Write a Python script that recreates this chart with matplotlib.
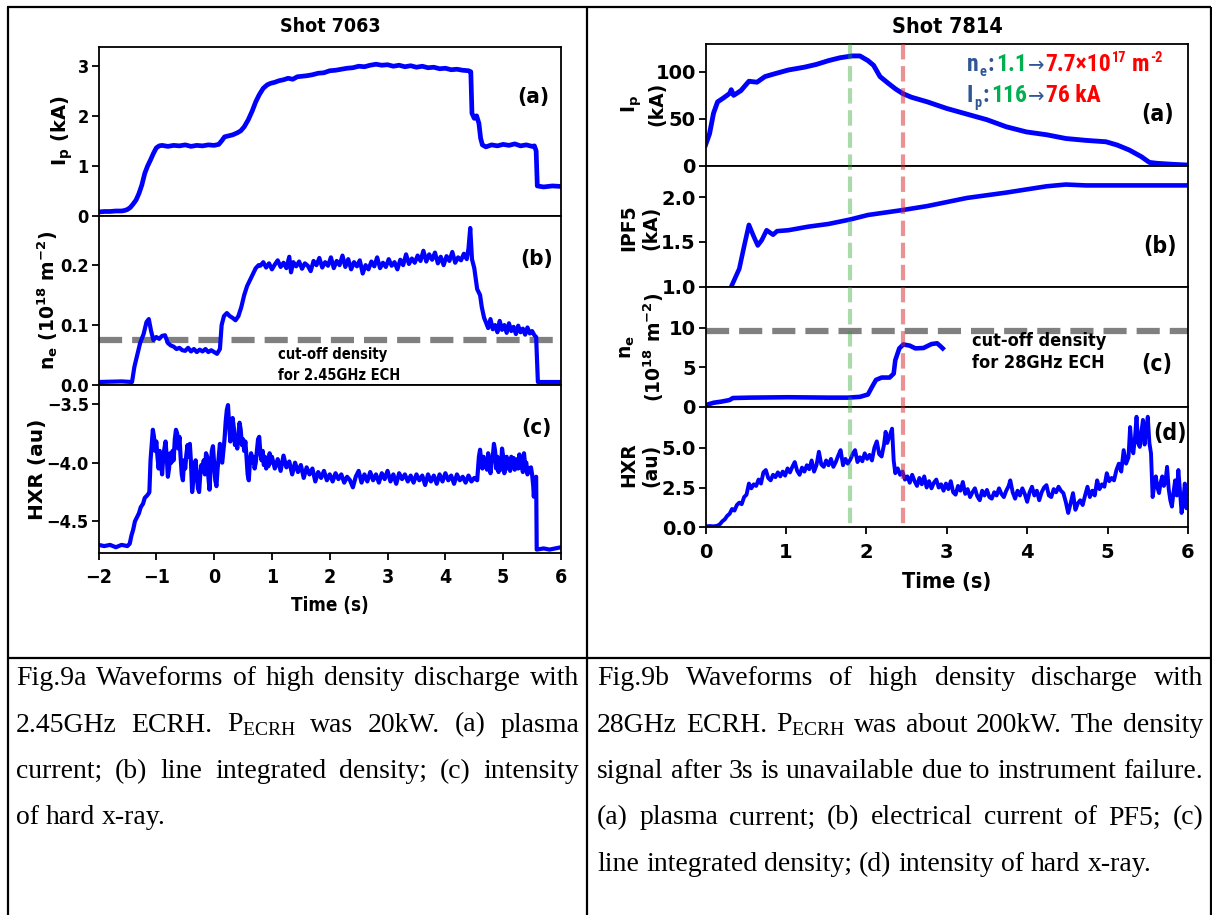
import os
import numpy as np
import matplotlib
matplotlib.use("Agg")
import matplotlib.pyplot as plt
from matplotlib import font_manager as fm
from matplotlib.font_manager import FontProperties
from matplotlib.lines import Line2D
from matplotlib.transforms import blended_transform_factory

# ---------------------------------------------------------------- data
# Shot 7063 (2.45 GHz ECRH): (time [s], value)
ip_7063 = [(-2.0, 0.08), (-1.9, 0.09), (-1.8, 0.09), (-1.7, 0.10), (-1.6, 0.10), (-1.55, 0.11),
           (-1.5, 0.13), (-1.45, 0.17), (-1.4, 0.24), (-1.35, 0.32), (-1.3, 0.45), (-1.25, 0.62),
           (-1.2, 0.85), (-1.15, 1.00), (-1.1, 1.12), (-1.05, 1.25), (-1.0, 1.36), (-0.95, 1.40),
           (-0.9, 1.41), (-0.8, 1.39), (-0.7, 1.41), (-0.6, 1.40), (-0.5, 1.42), (-0.4, 1.39),
           (-0.3, 1.41), (-0.2, 1.40), (-0.1, 1.42), (0.0, 1.41), (0.08, 1.43), (0.13, 1.50),
           (0.18, 1.58), (0.25, 1.60), (0.32, 1.62), (0.4, 1.66), (0.46, 1.70), (0.52, 1.78),
           (0.59, 1.92), (0.66, 2.10), (0.72, 2.28), (0.78, 2.42), (0.85, 2.55), (0.92, 2.62),
           (0.98, 2.65), (1.05, 2.67), (1.12, 2.70), (1.2, 2.72), (1.28, 2.75), (1.36, 2.73),
           (1.44, 2.78), (1.52, 2.79), (1.6, 2.80), (1.7, 2.82), (1.8, 2.85), (1.9, 2.86),
           (2.0, 2.90), (2.1, 2.91), (2.2, 2.93), (2.3, 2.95), (2.4, 2.96), (2.5, 2.99),
           (2.6, 2.98), (2.7, 3.01), (2.8, 3.03), (2.9, 3.01), (3.0, 3.02), (3.1, 2.99),
           (3.2, 3.01), (3.3, 2.98), (3.4, 3.00), (3.5, 2.97), (3.6, 2.99), (3.7, 2.96),
           (3.8, 2.97), (3.9, 2.94), (4.0, 2.95), (4.1, 2.92), (4.2, 2.93), (4.3, 2.91),
           (4.4, 2.90), (4.44, 2.88), (4.46, 2.05), (4.5, 1.95), (4.54, 2.00), (4.58, 1.85),
           (4.61, 1.55), (4.64, 1.42), (4.7, 1.38), (4.8, 1.42), (4.9, 1.40), (5.0, 1.43),
           (5.1, 1.41), (5.2, 1.44), (5.3, 1.40), (5.4, 1.42), (5.5, 1.39), (5.54, 1.40),
           (5.57, 1.30), (5.59, 0.60), (5.7, 0.58), (5.85, 0.60), (6.0, 0.59)]

ne_7063 = [(-2.0, 0.005), (-1.6, 0.006), (-1.42, 0.005), (-1.38, 0.03), (-1.33, 0.05),
           (-1.28, 0.07), (-1.22, 0.085), (-1.17, 0.105), (-1.13, 0.11), (-1.09, 0.09),
           (-1.05, 0.075), (-1.0, 0.08), (-0.95, 0.077), (-0.9, 0.082), (-0.85, 0.083),
           (-0.8, 0.07), (-0.75, 0.066), (-0.7, 0.064), (-0.65, 0.06), (-0.6, 0.062),
           (-0.55, 0.058), (-0.5, 0.057), (-0.45, 0.062), (-0.4, 0.056), (-0.35, 0.06),
           (-0.3, 0.055), (-0.25, 0.059), (-0.2, 0.056), (-0.15, 0.06), (-0.1, 0.055),
           (-0.05, 0.058), (0.0, 0.055), (0.05, 0.052), (0.1, 0.06), (0.13, 0.10),
           (0.17, 0.115), (0.22, 0.12), (0.27, 0.115), (0.32, 0.112), (0.37, 0.108),
           (0.42, 0.115), (0.47, 0.13), (0.52, 0.15), (0.57, 0.165), (0.62, 0.175),
           (0.67, 0.185), (0.72, 0.195), (0.77, 0.20), (0.80, 0.199), (0.85, 0.205),
           (0.90, 0.196), (0.95, 0.203), (1.00, 0.193), (1.05, 0.201), (1.10, 0.208),
           (1.15, 0.197), (1.20, 0.204), (1.25, 0.195), (1.30, 0.214), (1.33, 0.188),
           (1.37, 0.205), (1.42, 0.198), (1.47, 0.206), (1.52, 0.194), (1.57, 0.203),
           (1.62, 0.199), (1.67, 0.190), (1.72, 0.207), (1.77, 0.200), (1.82, 0.212),
           (1.87, 0.196), (1.92, 0.205), (1.97, 0.199), (2.02, 0.213), (2.07, 0.195),
           (2.12, 0.207), (2.17, 0.200), (2.22, 0.216), (2.27, 0.197), (2.32, 0.210),
           (2.37, 0.193), (2.42, 0.205), (2.47, 0.198), (2.52, 0.208), (2.57, 0.186),
           (2.62, 0.200), (2.67, 0.193), (2.72, 0.206), (2.77, 0.198), (2.82, 0.213),
           (2.87, 0.195), (2.92, 0.204), (2.97, 0.197), (3.02, 0.210), (3.07, 0.199),
           (3.12, 0.205), (3.17, 0.193), (3.22, 0.209), (3.27, 0.200), (3.32, 0.218),
           (3.37, 0.202), (3.42, 0.211), (3.47, 0.204), (3.52, 0.216), (3.57, 0.207),
           (3.62, 0.224), (3.67, 0.206), (3.72, 0.218), (3.77, 0.209), (3.82, 0.221),
           (3.87, 0.203), (3.92, 0.214), (3.97, 0.200), (4.02, 0.215), (4.07, 0.207),
           (4.12, 0.222), (4.17, 0.204), (4.22, 0.213), (4.27, 0.208), (4.32, 0.219),
           (4.37, 0.210), (4.40, 0.228), (4.43, 0.262), (4.46, 0.210), (4.50, 0.195),
           (4.55, 0.160), (4.60, 0.150), (4.63, 0.130), (4.67, 0.112), (4.70, 0.105),
           (4.74, 0.095), (4.78, 0.110), (4.82, 0.093), (4.86, 0.100), (4.90, 0.088),
           (4.94, 0.107), (4.98, 0.092), (5.02, 0.100), (5.06, 0.087), (5.10, 0.103),
           (5.14, 0.090), (5.18, 0.097), (5.22, 0.085), (5.26, 0.099), (5.30, 0.088),
           (5.34, 0.094), (5.38, 0.084), (5.42, 0.096), (5.46, 0.086), (5.50, 0.090),
           (5.54, 0.083), (5.57, 0.080), (5.59, 0.030), (5.60, 0.005), (6.0, 0.005)]

hxr_7063 = [(-2.0, -4.70), (-1.9, -4.71), (-1.8, -4.70), (-1.7, -4.72), (-1.6, -4.70),
            (-1.5, -4.71), (-1.46, -4.69), (-1.43, -4.62), (-1.4, -4.57), (-1.37, -4.50),
            (-1.33, -4.46), (-1.3, -4.43), (-1.27, -4.38), (-1.23, -4.35), (-1.2, -4.30),
            (-1.16, -4.28), (-1.13, -4.26), (-1.12, -4.25), (-1.1, -3.98), (-1.08, -3.85),
            (-1.06, -3.72), (-1.04, -3.78), (-1.02, -3.90), (-1.0, -3.82), (-0.98, -3.95),
            (-0.96, -4.05), (-0.94, -3.90), (-0.92, -4.00), (-0.9, -4.10), (-0.88, -3.95),
            (-0.86, -3.88), (-0.84, -3.82), (-0.82, -3.95), (-0.8, -4.12), (-0.78, -4.05),
            (-0.76, -3.92), (-0.74, -4.00), (-0.72, -3.90), (-0.7, -3.98), (-0.68, -3.80),
            (-0.66, -3.72), (-0.64, -3.75), (-0.62, -3.88), (-0.6, -3.78), (-0.58, -3.95),
            (-0.56, -4.10), (-0.54, -4.15), (-0.52, -3.98), (-0.5, -4.05), (-0.48, -3.93),
            (-0.46, -3.85), (-0.44, -3.95), (-0.42, -3.84), (-0.4, -4.00), (-0.38, -4.25),
            (-0.36, -4.15), (-0.34, -4.05), (-0.32, -3.98), (-0.3, -4.10), (-0.28, -4.22),
            (-0.26, -4.25), (-0.24, -4.10), (-0.22, -4.02), (-0.2, -4.06), (-0.18, -3.98),
            (-0.16, -4.10), (-0.14, -3.92), (-0.12, -3.95), (-0.1, -4.12), (-0.08, -4.23),
            (-0.06, -4.05), (-0.04, -3.90), (-0.02, -3.86), (0.0, -4.00), (0.02, -4.15),
            (0.04, -4.20), (0.06, -4.05), (0.08, -3.95), (0.1, -3.84), (0.12, -3.92),
            (0.14, -4.00), (0.16, -3.90), (0.18, -3.80), (0.2, -3.65), (0.22, -3.55),
            (0.24, -3.51), (0.26, -3.68), (0.28, -3.82), (0.3, -3.70), (0.32, -3.62),
            (0.34, -3.70), (0.36, -3.85), (0.38, -3.78), (0.4, -3.88), (0.42, -3.75),
            (0.44, -3.66), (0.46, -3.72), (0.48, -3.85), (0.5, -3.80), (0.52, -3.90),
            (0.54, -3.82), (0.56, -3.95), (0.58, -4.10), (0.6, -4.15), (0.62, -3.98),
            (0.64, -3.92), (0.66, -4.00), (0.68, -3.95), (0.7, -4.05), (0.72, -4.00),
            (0.74, -3.90), (0.76, -3.80), (0.78, -3.78), (0.8, -3.92), (0.82, -3.98),
            (0.84, -3.90), (0.86, -4.02), (0.88, -3.95), (0.9, -4.05), (0.92, -3.96),
            (0.94, -4.03), (0.96, -3.92), (0.98, -4.00), (1.0, -3.95), (1.05, -4.05),
            (1.1, -3.97), (1.15, -4.07), (1.2, -3.94), (1.25, -4.04), (1.3, -3.99),
            (1.35, -4.10), (1.4, -4.00), (1.45, -4.08), (1.5, -4.02), (1.55, -4.13),
            (1.6, -4.04), (1.65, -4.10), (1.7, -4.05), (1.75, -4.16), (1.8, -4.08),
            (1.85, -4.13), (1.9, -4.07), (1.95, -4.15), (2.0, -4.10), (2.05, -4.16),
            (2.1, -4.09), (2.15, -4.14), (2.2, -4.10), (2.25, -4.17), (2.3, -4.12),
            (2.35, -4.15), (2.4, -4.21), (2.45, -4.12), (2.5, -4.07), (2.55, -4.17),
            (2.6, -4.10), (2.65, -4.16), (2.7, -4.08), (2.75, -4.15), (2.8, -4.10),
            (2.85, -4.17), (2.9, -4.09), (2.95, -4.14), (3.0, -4.07), (3.05, -4.16),
            (3.1, -4.10), (3.15, -4.18), (3.2, -4.09), (3.25, -4.14), (3.3, -4.10),
            (3.35, -4.16), (3.4, -4.11), (3.45, -4.17), (3.5, -4.10), (3.55, -4.15),
            (3.6, -4.11), (3.65, -4.19), (3.7, -4.10), (3.75, -4.16), (3.8, -4.11),
            (3.85, -4.18), (3.9, -4.10), (3.95, -4.16), (4.0, -4.09), (4.05, -4.15),
            (4.1, -4.11), (4.15, -4.18), (4.2, -4.10), (4.25, -4.15), (4.3, -4.12),
            (4.35, -4.17), (4.4, -4.11), (4.45, -4.16), (4.5, -4.13), (4.55, -4.15),
            (4.58, -3.95), (4.6, -3.89), (4.62, -3.98), (4.64, -4.05), (4.66, -3.95),
            (4.68, -4.03), (4.7, -3.98), (4.72, -4.06), (4.74, -3.92), (4.76, -3.98),
            (4.78, -4.09), (4.8, -4.00), (4.82, -3.95), (4.84, -3.84), (4.86, -3.90),
            (4.88, -4.05), (4.9, -3.95), (4.92, -4.08), (4.94, -3.98), (4.96, -4.06),
            (4.98, -3.88), (5.0, -3.95), (5.02, -4.09), (5.04, -4.00), (5.06, -3.95),
            (5.08, -4.05), (5.1, -3.98), (5.12, -4.07), (5.14, -3.95), (5.16, -4.02),
            (5.18, -3.96), (5.2, -4.06), (5.22, -4.00), (5.24, -3.97), (5.26, -4.05),
            (5.28, -3.93), (5.3, -4.04), (5.32, -3.98), (5.34, -4.08), (5.36, -3.92),
            (5.38, -4.02), (5.4, -4.00), (5.42, -4.10), (5.44, -4.05), (5.46, -4.08),
            (5.48, -4.04), (5.5, -4.10), (5.52, -4.20), (5.53, -4.29), (5.55, -4.15),
            (5.57, -4.12), (5.58, -4.74), (5.7, -4.73), (5.8, -4.74), (6.0, -4.72)]

# Shot 7814 (28 GHz ECRH)
ip_7814 = [(0.0, 22), (0.05, 34), (0.1, 56), (0.15, 68), (0.22, 72), (0.3, 77), (0.32, 81),
           (0.35, 75), (0.44, 80), (0.54, 90), (0.64, 89), (0.74, 95), (0.84, 97.5),
           (1.03, 102), (1.23, 105), (1.38, 108), (1.53, 112), (1.67, 115), (1.82, 117),
           (1.92, 117), (2.02, 112), (2.09, 107), (2.17, 95), (2.27, 88), (2.36, 82),
           (2.45, 77), (2.56, 73), (2.76, 68), (3.0, 61), (3.25, 55), (3.5, 49), (3.74, 41.5),
           (3.99, 36), (4.24, 33), (4.48, 29), (4.73, 27), (4.98, 25.5), (5.12, 22),
           (5.27, 16.7), (5.42, 9.6), (5.52, 3.5), (5.62, 2.5), (5.82, 1.4), (5.99, 0.7)]

ipf5_7814 = [(0.32, 1.0), (0.42, 1.2), (0.48, 1.45), (0.54, 1.69), (0.6, 1.56), (0.65, 1.46),
             (0.7, 1.52), (0.76, 1.63), (0.84, 1.58), (0.89, 1.62), (1.03, 1.63), (1.28, 1.67),
             (1.53, 1.70), (1.8, 1.75), (2.02, 1.80), (2.45, 1.855), (2.76, 1.90), (3.25, 1.99),
             (3.74, 2.05), (4.24, 2.12), (4.48, 2.14), (4.73, 2.13), (5.22, 2.13), (6.0, 2.13)]

ne_7814 = [(0.0, 0.2), (0.1, 0.5), (0.2, 0.65), (0.3, 0.85), (0.34, 1.1), (0.54, 1.15),
           (1.03, 1.2), (1.53, 1.15), (1.77, 1.15), (1.92, 1.25), (2.02, 1.55), (2.07, 2.5),
           (2.12, 3.4), (2.19, 3.7), (2.29, 3.7), (2.34, 4.2), (2.36, 5.9), (2.41, 7.4),
           (2.46, 7.9), (2.54, 7.75), (2.61, 7.4), (2.71, 7.45), (2.81, 7.95), (2.88, 8.05),
           (2.93, 7.6), (2.95, 7.4)]

hxr_7814 = [(0.00, 0.05), (0.05, 0.08), (0.10, 0.06), (0.15, 0.10), (0.18, 0.20), (0.21, 0.38),
            (0.24, 0.50), (0.27, 0.72), (0.30, 0.85), (0.33, 1.15), (0.36, 1.05), (0.39, 1.40),
            (0.42, 1.55), (0.45, 1.45), (0.48, 1.90), (0.51, 2.05), (0.54, 2.75), (0.57, 2.45),
            (0.60, 2.70), (0.63, 2.60), (0.66, 3.00), (0.69, 2.75), (0.72, 3.45), (0.75, 3.60),
            (0.78, 3.10), (0.81, 2.95), (0.84, 3.30), (0.87, 3.15), (0.90, 3.45), (0.93, 3.20),
            (0.96, 3.50), (0.99, 3.25), (1.02, 3.70), (1.05, 3.45), (1.08, 3.80), (1.11, 4.10),
            (1.14, 3.55), (1.17, 3.30), (1.20, 3.75), (1.23, 3.50), (1.26, 3.90), (1.29, 3.65),
            (1.32, 4.20), (1.35, 3.50), (1.38, 3.90), (1.41, 4.75), (1.44, 3.95), (1.47, 3.80),
            (1.50, 4.20), (1.53, 3.90), (1.56, 4.30), (1.59, 3.80), (1.62, 4.10), (1.65, 4.50),
            (1.68, 4.85), (1.71, 3.90), (1.74, 4.30), (1.77, 4.00), (1.80, 4.25), (1.83, 4.60),
            (1.86, 4.85), (1.89, 4.10), (1.92, 4.40), (1.95, 4.15), (1.98, 4.65), (2.01, 4.30),
            (2.04, 4.55), (2.07, 4.20), (2.10, 5.00), (2.13, 5.40), (2.16, 4.60), (2.19, 4.45),
            (2.22, 5.20), (2.24, 6.00), (2.26, 5.30), (2.28, 5.60), (2.30, 5.90), (2.32, 6.20),
            (2.34, 4.20), (2.36, 3.40), (2.39, 3.70), (2.42, 3.30), (2.45, 3.50), (2.48, 3.00),
            (2.51, 3.20), (2.54, 2.80), (2.57, 3.30), (2.60, 2.90), (2.63, 2.60), (2.66, 3.10),
            (2.69, 2.70), (2.72, 3.20), (2.75, 2.50), (2.78, 2.90), (2.81, 2.45), (2.84, 2.80),
            (2.87, 3.00), (2.90, 2.50), (2.93, 2.70), (2.96, 2.30), (2.99, 2.75), (3.02, 2.40),
            (3.05, 2.90), (3.08, 2.20), (3.11, 2.05), (3.14, 2.60), (3.17, 2.30), (3.20, 2.85),
            (3.23, 2.10), (3.26, 2.40), (3.29, 1.90), (3.32, 2.20), (3.35, 2.45), (3.38, 1.95),
            (3.41, 1.70), (3.44, 2.30), (3.47, 2.00), (3.50, 2.35), (3.53, 1.90), (3.56, 1.80),
            (3.59, 2.20), (3.62, 2.00), (3.65, 2.45), (3.68, 2.10), (3.71, 1.90), (3.74, 2.30),
            (3.77, 2.60), (3.79, 2.95), (3.82, 2.20), (3.85, 1.80), (3.88, 2.30), (3.91, 2.00),
            (3.94, 2.45), (3.97, 2.10), (4.00, 1.60), (4.03, 2.20), (4.06, 2.55), (4.09, 2.00),
            (4.12, 2.30), (4.15, 1.70), (4.18, 2.20), (4.21, 2.50), (4.24, 2.65), (4.27, 2.00),
            (4.30, 1.90), (4.33, 2.40), (4.36, 2.20), (4.39, 2.55), (4.42, 2.30), (4.45, 2.15),
            (4.48, 1.60), (4.51, 0.90), (4.54, 1.50), (4.57, 2.15), (4.60, 1.10), (4.63, 1.50),
            (4.66, 1.70), (4.69, 1.40), (4.72, 2.00), (4.75, 2.55), (4.78, 1.90), (4.81, 2.30),
            (4.84, 2.00), (4.87, 2.95), (4.90, 2.40), (4.93, 2.70), (4.96, 2.55), (4.99, 3.40),
            (5.02, 2.90), (5.05, 3.10), (5.08, 2.95), (5.11, 3.60), (5.14, 4.00), (5.17, 3.50),
            (5.20, 4.85), (5.23, 4.00), (5.26, 4.40), (5.28, 6.30), (5.30, 5.00), (5.32, 4.65),
            (5.34, 5.60), (5.36, 6.95), (5.38, 5.30), (5.40, 5.05), (5.42, 6.00), (5.44, 6.75),
            (5.46, 5.20), (5.48, 6.20), (5.50, 6.95), (5.52, 5.30), (5.54, 4.65), (5.56, 1.90),
            (5.58, 2.60), (5.60, 3.20), (5.62, 2.50), (5.64, 2.15), (5.66, 2.80), (5.68, 3.20),
            (5.70, 2.60), (5.72, 2.90), (5.74, 3.80), (5.76, 2.40), (5.78, 1.70), (5.80, 1.30),
            (5.82, 2.20), (5.84, 2.95), (5.86, 2.00), (5.88, 3.60), (5.90, 2.30), (5.92, 0.90),
            (5.94, 1.60), (5.96, 2.75), (5.98, 1.20), (6.00, 1.70)]

cutoff_245 = 0.075      # 10^18 m^-2
cutoff_28 = 9.6         # 10^18 m^-2
t_green, t_red = 1.8, 2.45

ticks_7063_x = [-2, -1, 0, 1, 2, 3, 4, 5, 6]
ticks_7814_x = [0, 1, 2, 3, 4, 5, 6]

caption_a = ["Fig.9a Waveforms of high density discharge with",
             "2.45GHz ECRH. P$_\\mathregular{ECRH}$ was 20kW. (a) plasma",
             "current; (b) line integrated density; (c) intensity",
             "of hard x-ray."]
caption_b = ["Fig.9b Waveforms of high density discharge with",
             "28GHz ECRH. P$_\\mathregular{ECRH}$ was about 200kW. The density",
             "signal after 3s is unavailable due to instrument failure.",
             "(a) plasma current; (b) electrical current of PF5; (c)",
             "line integrated density; (d) intensity of hard x-ray."]

# ---------------------------------------------------------------- fonts
def _weight(f):
    w = f.weight
    if isinstance(w, str):
        w = fm.weight_dict.get(w, 400)
    return w


def narrow_font(target, prefs):
    best, best_key = None, None
    for f in fm.fontManager.ttflist:
        fn = os.path.basename(f.fname).lower().replace("-", "").replace("_", "")
        st = str(f.stretch).lower()
        if "condensed" not in fn and "narrow" not in fn and "condensed" not in st:
            continue
        if any(k in fn for k in ("extra", "ultra", "italic", "oblique", "mono", "serif")):
            continue
        rank = next((i for i, p in enumerate(prefs) if fn.startswith(p)), len(prefs))
        key = (rank, abs(_weight(f) - target), "semi" in fn)
        if best_key is None or key < best_key:
            best, best_key = f.fname, key
    return best


NARROW_BOLD = narrow_font(700, ["dejavusans", "notosans", "opensans", "roboto",
                                "liberationsansnarrow"])
ARIAL_NARROW = narrow_font(700, ["liberationsansnarrow", "roboto", "notosans", "opensans",
                                 "dejavusans"])


def cfont(size):
    if NARROW_BOLD:
        return FontProperties(fname=NARROW_BOLD, size=size)
    return FontProperties(family=["Roboto", "DejaVu Sans"], weight="bold", size=size)


def nfont(size):
    if ARIAL_NARROW:
        return FontProperties(fname=ARIAL_NARROW, size=size)
    return FontProperties(family=["Roboto", "DejaVu Sans"], weight="bold", size=size)


# ---------------------------------------------------------------- figure
W, H = 1212, 915
fig = plt.figure(figsize=(W / 100, H / 100), dpi=100)
fig.patch.set_facecolor("white")
renderer = fig.canvas.get_renderer()


def fx(x):
    return x / W


def fy(y):
    return 1 - y / H


def add_ax(x0, x1, y0, y1):
    return fig.add_axes([fx(x0), fy(y1), (x1 - x0) / W, (y1 - y0) / H])


# table grid
for (x0, y0, x1, y1) in [(6.5, 7, 1211, 7), (7.5, 7, 7.5, 915), (586.5, 7, 586.5, 915),
                         (1210.5, 7, 1210.5, 915), (7, 658, 1211, 658)]:
    fig.add_artist(Line2D([fx(x0), fx(x1)], [fy(y0), fy(y1)], transform=fig.transFigure,
                          color="black", lw=1.6, solid_capstyle="butt"))


def line(ax, pairs, lw=3.0):
    a = np.array(pairs, dtype=float)
    ax.plot(a[:, 0], a[:, 1], color="blue", lw=lw, solid_joinstyle="round")


def style(ax, xlim, ylim, yt, ytl, tick_fp, xt=None, xtl=None, xtick_fp=None):
    ax.set_xlim(*xlim)
    ax.set_ylim(*ylim)
    for s in ax.spines.values():
        s.set_linewidth(1.3)
    ax.set_yticks(yt, labels=ytl, fontproperties=tick_fp)
    ax.tick_params(axis="y", direction="out", length=5, width=1.3, pad=2)
    if xt is None:
        ax.tick_params(axis="x", bottom=False, labelbottom=False)
    else:
        ax.set_xticks(xt, labels=xtl, fontproperties=xtick_fp)
        ax.tick_params(axis="x", direction="out", length=5, width=1.3, pad=6)


# ---------------------------------------------------------------- Shot 7063
LX0, LX1 = 98.5, 561
la = add_ax(LX0, LX1, 46.7, 216)
lb = add_ax(LX0, LX1, 216, 385)
lc = add_ax(LX0, LX1, 385, 553)

ytick_l = cfont(13)

line(la, ip_7063, 3.4)
style(la, (-2, 6), (0, 3.38), [0, 1, 2, 3], ["0", "1", "2", "3"], ytick_l)

lb.axhline(cutoff_245, color="gray", lw=4.5, ls="--")
line(lb, ne_7063, 3.0)
style(lb, (-2, 6), (0, 0.282), [0.0, 0.1, 0.2], ["0.0", "0.1", "0.2"], ytick_l)

line(lc, hxr_7063, 3.0)
style(lc, (-2, 6), (-4.769, -3.339), [-4.5, -4.0, -3.5], ["\u22124.5", "\u22124.0", "\u22123.5"],
      ytick_l, ticks_7063_x, [str(v).replace("-", "\u2212") for v in ticks_7063_x], cfont(14))

fig.text(fx(330), fy(27), "Shot 7063", fontproperties=cfont(14), ha="center", va="center")
fig.text(fx(330), fy(605), "Time (s)", fontproperties=cfont(13.5), ha="center", va="center")
for lab, (x, y) in zip(["(a)", "(b)", "(c)"], [(533, 97), (537, 259), (536, 428)]):
    fig.text(fx(x), fy(y), lab, fontproperties=cfont(16), ha="center", va="center")
fig.text(fx(278), fy(355), "cut-off density", fontproperties=cfont(10.5), ha="left", va="center")
fig.text(fx(278), fy(376), "for 2.45GHz ECH", fontproperties=cfont(10.5), ha="left", va="center")

YL = dict(rotation=90, ha="center", va="center", fontweight="bold", family="DejaVu Sans")
fig.text(fx(62), fy(131), r"I$_\mathbf{p}$ (kA)", fontsize=14, **YL)
fig.text(fx(48), fy(300), r"n$_\mathbf{e}$ (10$^\mathbf{18}$ m$^\mathbf{-2}$)", fontsize=13.5, **YL)
fig.text(fx(38), fy(469), "HXR (au)", fontsize=14.5, **YL)

# ---------------------------------------------------------------- Shot 7814
RX0, RX1 = 705.5, 1188
ra = add_ax(RX0, RX1, 44.3, 165.7)
rb = add_ax(RX0, RX1, 165.7, 286.7)
rc = add_ax(RX0, RX1, 286.7, 406.7)
rd = add_ax(RX0, RX1, 406.7, 527.3)

ytick_r = FontProperties(family="DejaVu Sans", weight="bold", size=14)

line(ra, ip_7814, 3.5)
style(ra, (0, 6), (0, 129.4), [0, 50, 100], ["0", "50", "100"], ytick_r)

line(rb, ipf5_7814, 3.3)
style(rb, (0, 6), (1.0, 2.35), [1.0, 1.5, 2.0], ["1.0", "1.5", "2.0"], ytick_r)

rc.axhline(cutoff_28, color="gray", lw=4.5, ls="--")
line(rc, ne_7814, 3.3)
style(rc, (0, 6), (0, 15.23), [0, 5, 10], ["0", "5", "10"], ytick_r)

line(rd, hxr_7814, 2.8)
style(rd, (0, 6), (0, 7.58), [0.0, 2.5, 5.0], ["0.0", "2.5", "5.0"], ytick_r,
      ticks_7814_x, [str(v) for v in ticks_7814_x], ytick_r)

# vertical markers through all four panels
vtrans = blended_transform_factory(rd.transData, fig.transFigure)
for tv, col, al in [(t_green, "tab:green", 0.4), (t_red, "tab:red", 0.5)]:
    fig.add_artist(Line2D([tv, tv], [fy(44.3), fy(527.3)], transform=vtrans, color=col,
                          alpha=al, lw=3, ls="--"))

fig.text(fx(947), fy(27), "Shot 7814", fontproperties=cfont(15.5), ha="center", va="center")
fig.text(fx(947), fy(582), "Time (s)", fontproperties=cfont(15.5), ha="center", va="center")
for lab, (x, y) in zip(["(a)", "(b)", "(c)", "(d)"],
                       [(1158, 114), (1160, 246), (1157, 364), (1170, 433)]):
    fig.text(fx(x), fy(y), lab, fontproperties=cfont(16.5), ha="center", va="center")
fig.text(fx(972), fy(341), "cut-off density", fontproperties=cfont(13), ha="left", va="center")
fig.text(fx(972), fy(363), "for 28GHz ECH", fontproperties=cfont(13), ha="left", va="center")

YR = dict(rotation=90, ha="center", va="center", ma="center", fontweight="bold",
          family="DejaVu Sans", fontsize=13.5)
fig.text(fx(643), fy(104), "I$_\\mathbf{p}$\n(kA)", **YR)
fig.text(fx(640), fy(228), "IPF5\n(kA)", **YR)
fig.text(fx(642), fy(347), "n$_\\mathbf{e}$\n(10$^\\mathbf{18}$ m$^\\mathbf{-2}$)", **YR)
fig.text(fx(640), fy(465), "HXR\n(au)", **YR)

# coloured summary of the density / current change
C_BLUE, C_GREEN, C_RED = "#2F5597", "#00B050", "#FF0000"


def draw_runs(x, y, runs, scale):
    texts = []
    for s, color, kind, dy, gap in runs:
        if kind == "arrow":
            fp = FontProperties(family="DejaVu Sans", size=15 * scale)
        else:
            fp = nfont((18 if kind == "big" else 11) * scale)
        t = fig.text(fx(x), fy(y - dy), s, color=color, fontproperties=fp,
                     ha="left", va="baseline")
        texts.append(t)
        x += t.get_window_extent(renderer).width + gap
    return texts, x


run1 = [("n", C_BLUE, "big", 0, 1), ("e", C_BLUE, "small", -5, 1),
        (":", C_BLUE, "big", 0, 2), ("1.1", C_GREEN, "big", 0, 1),
        ("\u2192", C_BLUE, "arrow", 0, 1), ("7.7\u00d710", C_RED, "big", 0, 1),
        ("17", C_RED, "small", 9, 5), ("m", C_RED, "big", 0, 1), ("-2", C_RED, "small", 9, 0)]
run2 = [("I", C_BLUE, "big", 0, 1), ("p", C_BLUE, "small", -5, 1),
        (":", C_BLUE, "big", 0, 2), ("116", C_GREEN, "big", 0, 1),
        ("\u2192", C_BLUE, "arrow", 0, 1), ("76 kA", C_RED, "big", 0, 0)]

probe, x_end = draw_runs(967, 71, run1, 1.0)
fit = min(1.12, max(0.75, 195.0 / (x_end - 967)))
for t in probe:
    t.remove()
draw_runs(967, 71, run1, fit)
draw_runs(967, 102, run2, fit)

# ---------------------------------------------------------------- captions
cap_fp = FontProperties(family=["Liberation Serif", "DejaVu Serif"], size=20)


def text_w(s):
    t = fig.text(0, 0, s, fontproperties=cap_fp)
    w = t.get_window_extent(renderer).width
    t.remove()
    return w


SPACE = text_w("n n") - text_w("nn")


def caption(lines, x0, x1, y0, step):
    for i, ln in enumerate(lines):
        words = ln.split(" ")
        widths = [text_w(w) for w in words]
        last = i == len(lines) - 1
        gap = SPACE if last else (x1 - x0 - sum(widths)) / (len(words) - 1)
        x = x0
        y = y0 + i * step
        for w, wd in zip(words, widths):
            fig.text(fx(x), fy(y), w, fontproperties=cap_fp, ha="left", va="baseline")
            x += wd + gap


caption(caption_a, 16, 579, 685, 46.5)
caption(caption_b, 597, 1203, 685, 46.5)

fig.savefig("out.png", dpi=100, facecolor="white")
